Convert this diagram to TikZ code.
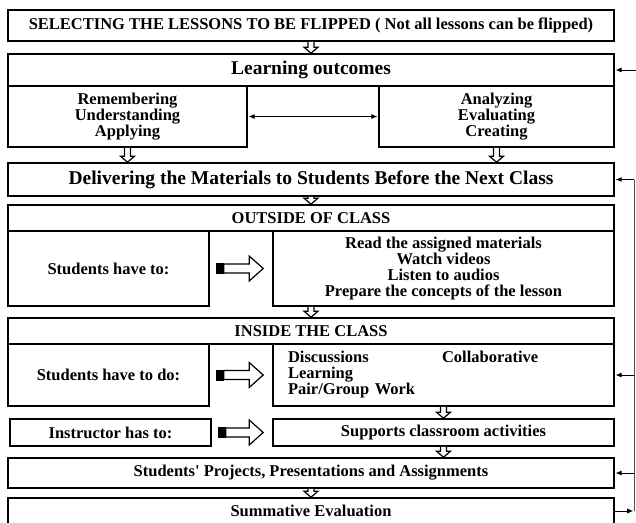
\documentclass[tikz,border=0pt]{standalone}
\usepackage{fontspec}
\setmainfont{Liberation Serif}
\usetikzlibrary{arrows.meta,calc}

% open arrow pointing down, between two boxes
\newcommand\flowdown[3][0pt]{%
  \path[fat] let \p1=($(#2.south)+(#1,0)$), \p2=(#3.north) in
    (\x1-3pt,\y1) -- (\x1-3pt,\y2+6pt) -- (\x1-7pt,\y2+6pt) -- (\x1,\y2)
    -- (\x1+7pt,\y2+6pt) -- (\x1+3pt,\y2+6pt) -- (\x1+3pt,\y1);}
% block arrow with black tail, left box to right box
\newcommand\flowright[2]{%
  \path[fat] let \p1=(#1.east), \p2=(#2.west) in
    (\x1+14pt,\y1-4.5pt) -- (\x2-23pt,\y1-4.5pt) -- (\x2-23pt,\y1-12.5pt) -- (\x2-9pt,\y1)
    -- (\x2-23pt,\y1+12.5pt) -- (\x2-23pt,\y1+4.5pt) -- (\x1+14pt,\y1+4.5pt) -- cycle;
  \fill let \p1=(#1.east) in (\x1+6pt,\y1-5.5pt) rectangle (\x1+14pt,\y1+5.5pt);}

\begin{document}
\begin{tikzpicture}[x=1pt, y=-1pt,
    box/.style = {rectangle, draw=black, line width=1.6pt, inner sep=0pt,
                  align=center, font=\fontsize{16.5}{16}\selectfont\bfseries},
    wide/.style = {box, minimum width=606pt},
    big/.style = {font=\fontsize{19.5}{20}\selectfont\bfseries},
    fat/.style = {draw=black, fill=white, line width=1.2pt},
    fb/.style = {line width=0.8pt, shorten >=0.8pt, -{Latex[length=6pt,width=5pt]}}
  ]
  \useasboundingbox (0,0) rectangle (636,522);

  \node (sel) [wide, minimum height=31pt] at (311,25.5)
    {SELECTING THE LESSONS TO BE FLIPPED ( Not all lessons can be flipped)};
  \node (lohead) [wide, big, minimum height=32pt] at (311,70) {Learning outcomes};
  \node (lorem) [box, minimum width=239pt, minimum height=61pt] at (127.5,116.5)
    {Remembering\\Understanding\\Applying};
  \node (loana) [box, minimum width=235pt, minimum height=61pt] at (496.5,116.5)
    {Analyzing\\Evaluating\\Creating};
  \node (deliv) [wide, big, minimum height=33pt] at (311,179.5)
    {Delivering the Materials to Students Before the Next Class};

  \node (outhead) [wide, minimum height=26pt] at (311,218) {OUTSIDE OF CLASS};
  \node (outstu) [box, minimum width=201pt, minimum height=75pt] at (108.5,268.5) {Students have to:};
  \node (outact) [box, minimum width=341pt, minimum height=75pt] at (443.5,268.5)
    {Read the assigned materials\\Watch videos\\Listen to audios\\Prepare the concepts of the lesson};

  \node (inhead) [wide, minimum height=26pt] at (311,331) {INSIDE THE CLASS};
  \node (instu) [box, minimum width=201pt, minimum height=62pt] at (108.5,375) {Students have to do:};
  \node (inact) [box, minimum width=341pt, minimum height=62pt, text width=311pt,
                 align=left, inner xsep=15pt] at (443.5,375)
    {\makebox[154pt][l]{Discussions}Collaborative\\Learning\\Pair/Group Work};
  \node (instr) [box, minimum width=201pt, minimum height=27pt] at (110.5,432.5) {Instructor has to:};
  \node (supp) [box, minimum width=341pt, minimum height=27pt] at (443.5,432.5) {Supports classroom activities};

  \node (proj) [wide, minimum height=30pt] at (311,473)
    {Students\textquotesingle{} Projects, Presentations and Assignments};
  \node (summ) [wide, minimum height=26pt] at (311,511) {Summative Evaluation};

  \draw[line width=0.8pt, {Latex[length=6pt,width=5pt]}-{Latex[length=6pt,width=5pt]},
        shorten <=0.8pt, shorten >=0.8pt] (lorem.east) -- (loana.west);

  \flowdown{sel}{lohead}
  \flowdown{lorem}{deliv}
  \flowdown{loana}{deliv}
  \flowdown{deliv}{outhead}
  \flowdown[-132.5pt]{outact}{inhead}
  \flowdown{inact}{supp}
  \flowdown{supp}{proj}
  \flowdown{proj}{summ}

  \flowright{outstu}{outact}
  \flowright{instu}{inact}
  \flowright{instr}{supp}

  % feedback rail on the right
  \coordinate (rail) at (634,0);
  \coordinate (edge) at (636,0);
  \draw[line width=0.8pt, draw=black!70] (summ.east -| rail) -- (deliv.east -| rail);
  \draw[fb] (summ.east) -- (summ.east -| rail);
  \foreach \n in {deliv,inact,proj}
    \draw[fb] (\n.east -| rail) -- (\n.east);
  \draw[fb] (lohead.east -| edge) -- (lohead.east);
\end{tikzpicture}
\end{document}
